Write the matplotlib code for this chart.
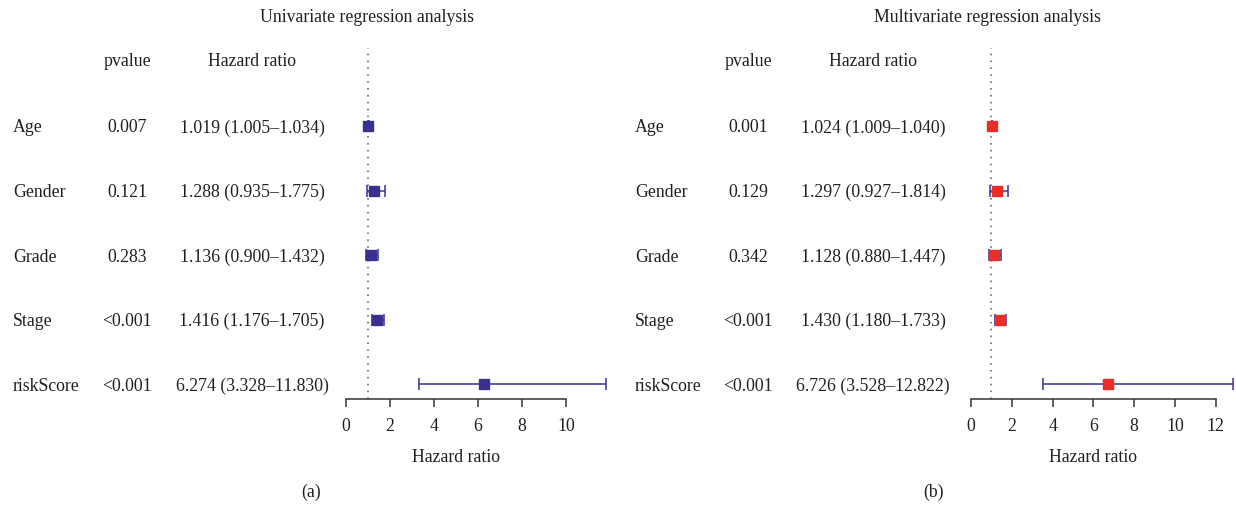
import numpy as np
import matplotlib
matplotlib.use('Agg')
import matplotlib.pyplot as plt
import matplotlib.transforms as mtransforms

W, H = 1236, 507
DPI = 100

# ---- data ----
variables = ['Age', 'Gender', 'Grade', 'Stage', 'riskScore']

uni_p = ['0.007', '0.121', '0.283', '<0.001', '<0.001']
uni_hr = [1.019, 1.288, 1.136, 1.416, 6.274]
uni_lo = [1.005, 0.935, 0.900, 1.176, 3.328]
uni_hi = [1.034, 1.775, 1.432, 1.705, 11.830]

multi_p = ['0.001', '0.129', '0.342', '<0.001', '<0.001']
multi_hr = [1.024, 1.297, 1.128, 1.430, 6.726]
multi_lo = [1.009, 0.927, 0.880, 1.180, 3.528]
multi_hi = [1.040, 1.814, 1.447, 1.733, 12.822]

uni_ticks = [0, 2, 4, 6, 8, 10]
multi_ticks = [0, 2, 4, 6, 8, 10, 12]

plt.rcParams['font.family'] = ['Liberation Serif', 'DejaVu Serif']
TXT = '#231f20'
FS = 12.8

fig = plt.figure(figsize=(W / DPI, H / DPI), dpi=DPI, facecolor='white')


def fx(px):
    return px / W


def fy(py):
    return 1 - py / H


# row geometry (pixels)
ROW0 = 126
ROWSTEP = 64.6
SPINE_Y = 399
TOP_Y = 48
TXT_DY = 2  # text sits a touch lower than the square centres


def panel(x0px, ppu, xmax, p, hr, lo, hi, ticks, sq_color,
          lab_x, p_x, hr_x, title, title_x, letter, letter_x):
    xmin = -0.5
    left = x0px + xmin * ppu
    width = (xmax - xmin) * ppu
    ax = fig.add_axes([fx(left), fy(SPINE_Y), width / W, (SPINE_Y - TOP_Y) / H])
    ax.patch.set_alpha(0)
    y_bot = (SPINE_Y - ROW0) / ROWSTEP
    y_top = (TOP_Y - ROW0) / ROWSTEP
    ax.set_xlim(xmin, xmax)
    ax.set_ylim(y_bot, y_top)

    rows = np.arange(len(variables))
    hr = np.array(hr)
    lo = np.array(lo)
    hi = np.array(hi)

    ax.axvline(1, color='#555555', lw=1.1, ls=(0, (1, 3.5)), zorder=1)
    ax.errorbar(hr, rows, xerr=[hr - lo, hi - hr], fmt='none',
                ecolor='#34349a', elinewidth=1.1, capsize=4, capthick=1.1, zorder=2)
    ax.plot(hr, rows, ls='none', marker='s', markersize=7.9,
            color=sq_color, mec=sq_color, zorder=3)

    for s in ['top', 'right', 'left']:
        ax.spines[s].set_visible(False)
    ax.spines['bottom'].set_bounds(ticks[0], ticks[-1])
    ax.spines['bottom'].set_color('#333333')
    ax.spines['bottom'].set_linewidth(1.1)
    ax.set_yticks([])
    ax.set_xticks(ticks)
    ax.tick_params(axis='x', direction='out', length=5.5, width=1.1,
                   color='#333333', pad=8, labelsize=FS, labelcolor=TXT)

    tr = mtransforms.blended_transform_factory(fig.transFigure, ax.transData)
    dy = TXT_DY / ROWSTEP
    hdr = (62 - ROW0) / ROWSTEP
    fig.text(fx(p_x), hdr, 'pvalue', transform=tr, ha='center', va='center',
             fontsize=FS, color=TXT)
    fig.text(fx(hr_x), hdr, 'Hazard ratio', transform=tr, ha='center', va='center',
             fontsize=FS, color=TXT)
    for i, name in enumerate(variables):
        fig.text(fx(lab_x), i + dy, name, transform=tr, ha='left', va='center',
                 fontsize=FS, color=TXT)
        fig.text(fx(p_x), i + dy, p[i], transform=tr, ha='center', va='center',
                 fontsize=FS, color=TXT)
        fig.text(fx(hr_x), i + dy, f'{hr[i]:.3f} ({lo[i]:.3f}\u2013{hi[i]:.3f})',
                 transform=tr, ha='center', va='center', fontsize=FS, color=TXT)

    fig.text(fx(title_x), fy(17), title, ha='center', va='center',
             fontsize=FS, color=TXT)
    fig.text(fx(x0px + ppu * (ticks[0] + ticks[-1]) / 2), fy(457), 'Hazard ratio',
             ha='center', va='center', fontsize=FS, color=TXT)
    fig.text(fx(letter_x), fy(492), letter, ha='center', va='center',
             fontsize=FS, color=TXT)
    return ax


panel(346, 22.0, 12.2, uni_p, uni_hr, uni_lo, uni_hi, uni_ticks, '#39318f',
      13, 127, 252, 'Univariate regression analysis', 367, '(a)', 311)
panel(971, 20.4, 13.2, multi_p, multi_hr, multi_lo, multi_hi, multi_ticks, '#ec2d26',
      635, 748, 873, 'Multivariate regression analysis', 987, '(b)', 934)

fig.savefig('out.png', dpi=DPI, facecolor='white')
